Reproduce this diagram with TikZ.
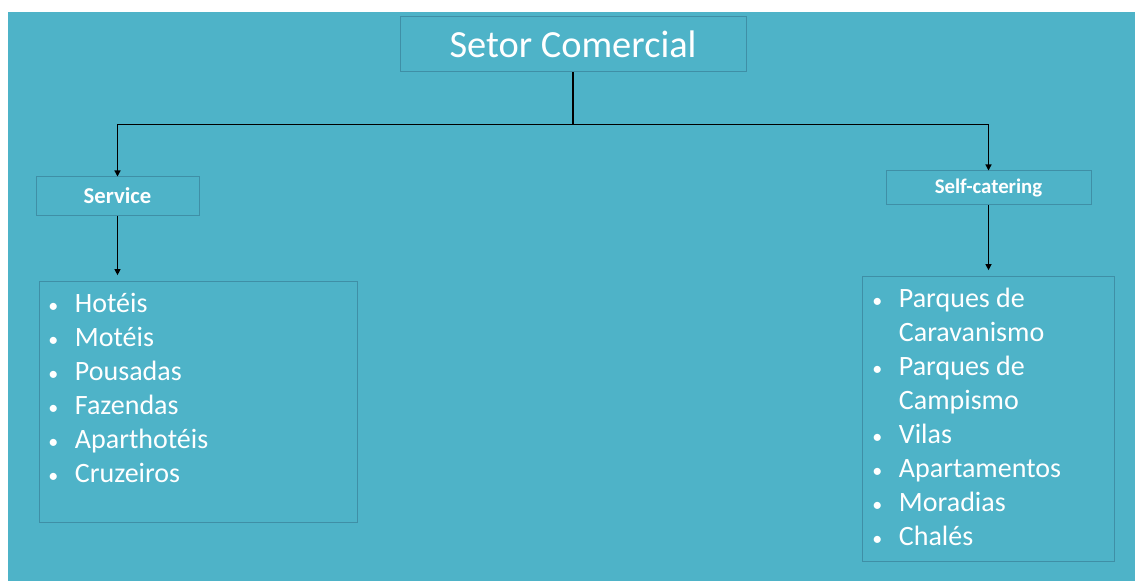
\documentclass[tikz,border=0pt]{standalone}
\usepackage{fontspec}
\setmainfont{Carlito}
\usetikzlibrary{arrows.meta}

\definecolor{panel}{HTML}{4EB3C8}
\definecolor{edge}{HTML}{3F8FA6}

\newcommand{\dotmark}{{\fontsize{15}{15}\selectfont\textbullet}}

\begin{document}
\begin{tikzpicture}[x=0.75pt, y=-0.75pt,
    box/.style={draw=edge, line width=0.75pt, text=white, inner sep=0pt},
    link/.style={line width=0.9pt, -{Triangle[length=4.5pt, width=4.5pt]}},
    entries/.style={text=white, anchor=north west, inner sep=0pt,
      font=\fontsize{21}{25.5}\selectfont}]

    \useasboundingbox[fill=white] (0, 0) rectangle (1135, 581);

    \fill[panel] (8, 12) rectangle (1135, 581);


    \node[box, minimum width=259.5pt, minimum height=41.25pt,
      font=\fontsize{28.8}{32}\selectfont] (sector) at (573, 44.5) {Setor Comercial};

    \node[box, minimum width=122.25pt, minimum height=28.5pt,
      font=\fontsize{17}{20}\selectfont\bfseries] (service) at (117.5, 196) {Service};

    \node[box, minimum width=153.75pt, minimum height=25.5pt,
      font=\fontsize{15.6}{18}\selectfont\bfseries] (selfcat) at (988.5, 188) {Self-catering};

    \node[box, minimum width=238.5pt, minimum height=180.75pt] (servbox) at (198, 401.5) {};

    \node[box, minimum width=189pt, minimum height=213.75pt] (selfbox) at (988, 418.5) {};


    \node[entries] (servlist) at (48, 288) {%
      \begin{tabular}{@{}p{20pt}@{}l@{}}
        \dotmark & Hotéis\\
        \dotmark & Motéis\\
        \dotmark & Pousadas\\
        \dotmark & Fazendas\\
        \dotmark & Aparthotéis\\
        \dotmark & Cruzeiros
      \end{tabular}};

    \node[entries] (selflist) at (872, 283) {%
      \begin{tabular}{@{}p{20pt}@{}l@{}}
        \dotmark & Parques de\\
                 & Caravanismo\\
        \dotmark & Parques de\\
                 & Campismo\\
        \dotmark & Vilas\\
        \dotmark & Apartamentos\\
        \dotmark & Moradias\\
        \dotmark & Chalés
      \end{tabular}};


    \draw[link] (sector.south) -- ++(0, 52) -| (service.north);

    \draw[link] (sector.south) -- ++(0, 52) -| (selfcat.north);

    \draw[link, shorten >=4pt] (service.south) -- (service.south |- servbox.north);

    \draw[link, shorten >=4pt] (selfcat.south) -- (selfcat.south |- selfbox.north);

\end{tikzpicture}
\end{document}
